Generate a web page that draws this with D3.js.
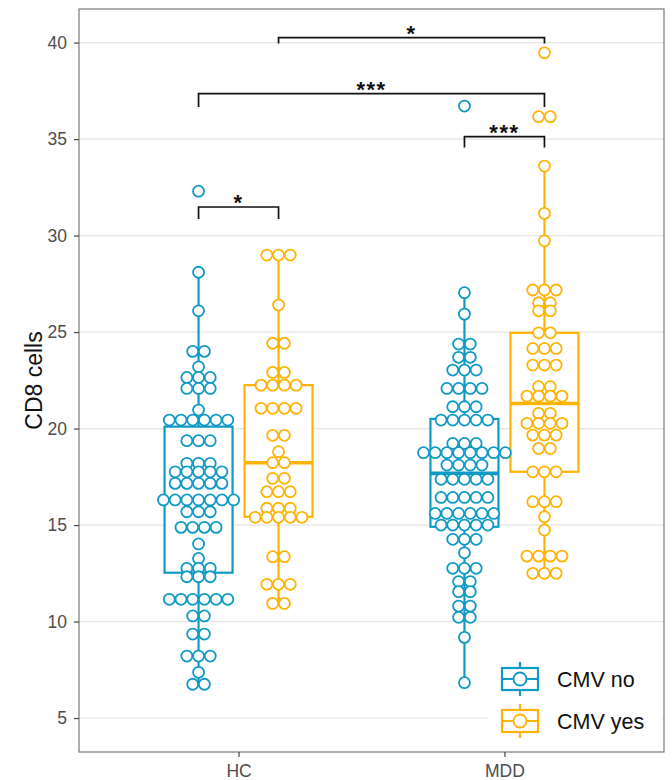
<!DOCTYPE html>
<html><head><meta charset="utf-8">
<script src="https://cdn.jsdelivr.net/npm/d3@7"></script>
<style>body{margin:0;background:#fff} svg{display:block;font-family:"Liberation Sans",Arial,Helvetica,sans-serif}</style>
</head><body><svg id="c" width="672" height="780"></svg>
<script>
// ---- data ----
const groups = ["HC", "MDD"];
const cmvLevels = ["no", "yes"];
const cmvLabels = ["CMV no", "CMV yes"];
const yTicks = [5, 10, 15, 20, 25, 30, 35, 40];
const yTitle = "CD8 cells";

const hcNo = [32.3, 28.1, 26.1, 24.0, 24.0, 23.2, 22.65, 22.65, 22.65, 22.08, 22.08, 22.08, 20.96,
  20.44, 20.44, 20.44, 20.44, 20.44, 20.44, 19.37, 19.37, 19.37, 18.2, 18.2, 18.2,
  17.76, 17.76, 17.76, 17.76, 17.76, 17.16, 17.16, 17.16, 17.16, 17.16,
  16.3, 16.3, 16.3, 16.3, 16.3, 16.3, 16.3, 15.69, 15.69, 15.69, 14.88, 14.88, 14.88, 14.88,
  14.02, 13.27, 12.76, 12.76, 12.76, 12.32, 12.32, 12.32, 11.15, 11.15, 11.15, 11.15, 11.15, 11.15,
  10.29, 10.29, 9.35, 9.35, 8.21, 8.21, 8.21, 7.37, 6.75, 6.75];
const hcYes = [28.99, 28.99, 28.99, 26.4, 24.42, 24.42, 22.91, 22.91, 22.25, 22.25, 22.25, 22.25,
  21.05, 21.05, 21.05, 21.05, 19.65, 19.65, 18.8, 18.23, 18.23, 17.42, 17.42, 16.73, 16.73, 16.73,
  15.87, 15.87, 15.87, 15.4, 15.4, 15.4, 15.4, 15.4, 13.36, 13.36, 11.93, 11.93, 11.93, 10.94, 10.94];
const mddNo = [36.71, 27.04, 25.93, 24.38, 24.38, 23.69, 23.69, 23.03, 23.03, 23.03,
  22.08, 22.08, 22.08, 22.08, 21.13, 21.13, 21.13, 20.44, 20.44, 20.44, 20.44, 20.44,
  19.23, 19.23, 19.23, 18.75, 18.75, 18.75, 18.75, 18.75, 18.75, 18.75, 18.75,
  18.11, 18.11, 18.11, 18.11, 17.37, 17.37, 17.37, 17.37, 17.37, 16.43, 16.43, 16.43, 16.43, 16.43,
  15.6, 15.6, 15.6, 15.6, 15.6, 15.6, 15.0, 15.0, 15.0, 15.0, 15.0, 14.26, 14.26, 14.26, 13.56,
  12.76, 12.76, 12.76, 12.07, 12.07, 11.55, 11.55, 10.8, 10.8, 10.22, 10.22, 9.18, 6.83];
const mddYes = [39.47, 36.16, 36.16, 33.6, 31.15, 29.73, 27.18, 27.18, 27.18, 26.52, 26.52, 26.1, 26.1,
  24.96, 24.96, 24.15, 24.15, 24.15, 23.29, 23.29, 23.29, 22.17, 22.17, 21.68, 21.68, 21.68, 21.68,
  20.79, 20.79, 20.27, 20.27, 20.27, 20.27, 19.66, 19.66, 19.66, 18.97, 18.97, 17.76, 17.76, 17.76,
  16.21, 16.21, 16.21, 15.43, 14.74, 13.39, 13.39, 13.39, 13.39, 12.5, 12.5, 12.5];

// box stats: [lower whisker, Q1, median, Q3, upper whisker]
const hcNoBox = [6.75, 12.53, 16.3, 20.1, 28.1];
const hcYesBox = [10.94, 15.43, 18.23, 22.25, 28.99];
const mddNoBox = [6.83, 14.91, 17.68, 20.5, 27.04];
const mddYesBox = [12.5, 17.76, 21.3, 24.96, 33.6];

// significance comparisons
const compFrom = [["HC", "yes"], ["HC", "no"], ["MDD", "no"], ["HC", "no"]];
const compTo = [["MDD", "yes"], ["MDD", "yes"], ["MDD", "yes"], ["HC", "yes"]];
const compY = [40.26, 37.36, 35.13, 31.48];
const compTipY = [39.95, 36.66, 34.56, 30.86];
const compLabel = ["*", "***", "***", "*"];

// ---- layout ----
const colors = { no: "#0f9ac6", yes: "#ffb302" };
const L = 79, R = 664, T = 9, B = 752;
const svg = d3.select("#c");

const x0 = d3.scalePoint().domain(groups).range([L, R]).padding(0.6);
const x1 = d3.scalePoint().domain(cmvLevels).range([-40, 40]);
const y = d3.scaleLinear().domain([3.24, 41.74]).range([B, T]);

const series = [
  { g: "HC", c: "no", vals: hcNo, box: hcNoBox },
  { g: "HC", c: "yes", vals: hcYes, box: hcYesBox },
  { g: "MDD", c: "no", vals: mddNo, box: mddNoBox },
  { g: "MDD", c: "yes", vals: mddYes, box: mddYesBox }
];
const cx = (g, c) => x0(g) + x1(c);

// panel background + grid
svg.append("rect").attr("x", L).attr("y", T).attr("width", R - L).attr("height", B - T).attr("fill", "#fff");
svg.append("g").selectAll("line").data(yTicks).join("line")
  .attr("x1", L).attr("x2", R).attr("y1", d => y(d)).attr("y2", d => y(d))
  .attr("stroke", "#e4e4e4").attr("stroke-width", 1.2);

// boxes
const boxHalf = 34;
series.forEach(s => {
  const g = svg.append("g"), xc = cx(s.g, s.c), col = colors[s.c];
  const [lo, q1, md, q3, hi] = s.box;
  g.append("line").attr("x1", xc).attr("x2", xc).attr("y1", y(hi)).attr("y2", y(q3)).attr("stroke", col).attr("stroke-width", 2.2);
  g.append("line").attr("x1", xc).attr("x2", xc).attr("y1", y(q1)).attr("y2", y(lo)).attr("stroke", col).attr("stroke-width", 2.2);
  g.append("rect").attr("x", xc - boxHalf).attr("width", 2 * boxHalf).attr("y", y(q3)).attr("height", y(q1) - y(q3))
    .attr("fill", "#fff").attr("stroke", col).attr("stroke-width", 2.2);
  g.append("line").attr("x1", xc - boxHalf).attr("x2", xc + boxHalf).attr("y1", y(md)).attr("y2", y(md)).attr("stroke", col).attr("stroke-width", 3.6);
});

// dots (centered dotplot stacks)
const spacing = 11.7;
series.forEach(s => {
  const xc = cx(s.g, s.c), col = colors[s.c];
  const rows = d3.rollups(s.vals, v => v.length, v => v);
  const pts = [];
  rows.forEach(([v, n]) => { for (let i = 0; i < n; i++) pts.push({ v, off: (i - (n - 1) / 2) * spacing }); });
  svg.append("g").selectAll("circle").data(pts).join("circle")
    .attr("cx", d => xc + d.off).attr("cy", d => y(d.v)).attr("r", 5.5)
    .attr("fill", "#fff").attr("stroke", col).attr("stroke-width", 1.8);
});

// significance brackets
compLabel.forEach((lab, i) => {
  const xa = cx(...compFrom[i]), xb = cx(...compTo[i]);
  const yy = y(compY[i]), yt = y(compTipY[i]);
  svg.append("path").attr("d", `M${xa},${yt}V${yy}H${xb}V${yt}`)
    .attr("fill", "none").attr("stroke", "#111").attr("stroke-width", 1.7);
  svg.append("text").attr("x", (xa + xb) / 2).attr("y", yy + 3).attr("text-anchor", "middle")
    .attr("font-size", 22).attr("font-weight", "bold").attr("letter-spacing", 1.5).attr("fill", "#111").text(lab);
});

// panel border
svg.append("rect").attr("x", L).attr("y", T).attr("width", R - L).attr("height", B - T)
  .attr("fill", "none").attr("stroke", "#7a7a7a").attr("stroke-width", 1.2);

// axes
const ya = svg.append("g").attr("transform", `translate(${L},0)`)
  .call(d3.axisLeft(y).tickValues(yTicks).tickSize(5).tickPadding(7));
const xa = svg.append("g").attr("transform", `translate(0,${B})`)
  .call(d3.axisBottom(x0).tickSize(5).tickPadding(8));
[ya, xa].forEach(a => {
  a.select(".domain").remove();
  a.selectAll(".tick line").attr("stroke", "#444").attr("stroke-width", 1.2);
  a.selectAll(".tick text").attr("fill", "#4d4d4d").attr("font-size", 17.5)
    .attr("font-family", '"Liberation Sans",Arial,sans-serif');
});

// y title
svg.append("text").attr("transform", `translate(42,${(T + B) / 2}) rotate(-90)`)
  .attr("text-anchor", "middle").attr("font-size", 23).attr("fill", "#111").text(yTitle);

// legend
const lg = svg.append("g");
lg.append("rect").attr("x", 488).attr("y", 655).attr("width", 174).attr("height", 90).attr("fill", "#fff");
cmvLevels.forEach((c, i) => {
  const cy = 679 + i * 42, kx = 520, col = colors[c];
  const k = lg.append("g");
  k.append("line").attr("x1", kx).attr("x2", kx).attr("y1", cy - 17).attr("y2", cy + 17).attr("stroke", col).attr("stroke-width", 2.2);
  k.append("rect").attr("x", kx - 18).attr("y", cy - 11).attr("width", 36).attr("height", 22)
    .attr("fill", "#fff").attr("stroke", col).attr("stroke-width", 2.2);
  k.append("line").attr("x1", kx - 18).attr("x2", kx + 18).attr("y1", cy).attr("y2", cy).attr("stroke", col).attr("stroke-width", 2.2);
  k.append("circle").attr("cx", kx).attr("cy", cy).attr("r", 6.5).attr("fill", "#fff").attr("stroke", col).attr("stroke-width", 1.8);
  lg.append("text").attr("x", 557).attr("y", cy).attr("dy", "0.36em").attr("font-size", 21.5).attr("fill", "#111").text(cmvLabels[i]);
});
</script></body></html>
